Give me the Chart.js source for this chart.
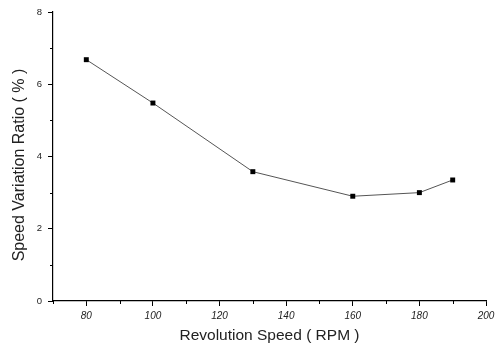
<!DOCTYPE html>
<html>
<head>
<meta charset="utf-8">
<script src="https://cdn.jsdelivr.net/npm/chart.js@4/dist/chart.umd.min.js"></script>
<style>
  html, body { margin: 0; padding: 0; background: #fff; }
  #wrap { width: 502px; height: 349px; }
</style>
</head>
<body>
<div id="wrap"><canvas id="speedChart" width="502" height="349"></canvas></div>
<script>
// data
const rpm = [80, 100, 130, 160, 180, 190];
const variation = [6.68, 5.48, 3.58, 2.9, 3.0, 3.35];
const xTicks = [80, 100, 120, 140, 160, 180, 200];
const yTicks = [0, 2, 4, 6, 8];
const yTitle = 'Speed Variation Ratio ( % )';
const xTitle = 'Revolution Speed ( RPM )';

const fontFamily = 'Liberation Sans, Arial, sans-serif';

// short minor ticks between the labelled ones, plus the rotated y title
const extras = {
    id: 'extras',
    afterDraw(chart) {
        const ctx = chart.ctx;
        const xs = chart.scales.x, ys = chart.scales.y;
        ctx.save();
        ctx.strokeStyle = '#000';
        ctx.lineWidth = 1;
        ctx.beginPath();
        for (let v = 70; v <= 200; v += 20) {
            const px = Math.round(xs.getPixelForValue(v)) + 0.5;
            ctx.moveTo(px, ys.bottom);
            ctx.lineTo(px, ys.bottom + 3);
        }
        for (let v = 1; v <= 7; v += 2) {
            const py = Math.round(ys.getPixelForValue(v)) + 0.5;
            ctx.moveTo(xs.left, py);
            ctx.lineTo(xs.left - 3, py);
        }
        ctx.stroke();

        ctx.translate(20, 165);
        ctx.rotate(-Math.PI / 2);
        ctx.fillStyle = '#222';
        ctx.font = '16px ' + fontFamily;
        ctx.textAlign = 'center';
        ctx.textBaseline = 'middle';
        ctx.fillText(yTitle, 0, 0);
        ctx.restore();
    }
};

const ctx = document.getElementById('speedChart').getContext('2d');
new Chart(ctx, {
    type: 'line',
    data: {
        datasets: [{
            data: rpm.map((x, i) => ({ x: x, y: variation[i] })),
            borderColor: '#555',
            borderWidth: 1,
            pointStyle: 'rect',
            pointRadius: 3.5,
            pointBackgroundColor: '#000',
            pointBorderColor: '#000',
            pointBorderWidth: 0,
            tension: 0
        }]
    },
    options: {
        responsive: false,
        animation: false,
        layout: { padding: { top: 12, right: 16, left: 0, bottom: 0 } },
        plugins: { legend: { display: false }, tooltip: { enabled: false } },
        scales: {
            x: {
                type: 'linear', min: 70, max: 200,
                afterBuildTicks: (s) => { s.ticks = xTicks.map(v => ({ value: v })); },
                afterFit: (s) => { s.height = 48; },
                border: { color: '#000', width: 1.2 },
                grid: { drawOnChartArea: false, tickLength: 5, tickColor: '#000' },
                ticks: {
                    color: '#222', padding: 4,
                    font: { family: fontFamily, size: 10, style: 'italic' }
                },
                title: {
                    display: true, text: xTitle, color: '#222',
                    font: { family: fontFamily, size: 15.5 },
                    padding: { top: 1 }
                }
            },
            y: {
                min: 0, max: 8,
                afterBuildTicks: (s) => { s.ticks = yTicks.map(v => ({ value: v })); },
                afterFit: (s) => { s.width = 53; },
                border: { color: '#000', width: 1.2 },
                grid: { drawOnChartArea: false, tickLength: 5, tickColor: '#000' },
                ticks: {
                    color: '#222', padding: 6,
                    font: { family: fontFamily, size: 9.5 }
                }
            }
        }
    },
    plugins: [extras]
});
</script>
</body>
</html>
